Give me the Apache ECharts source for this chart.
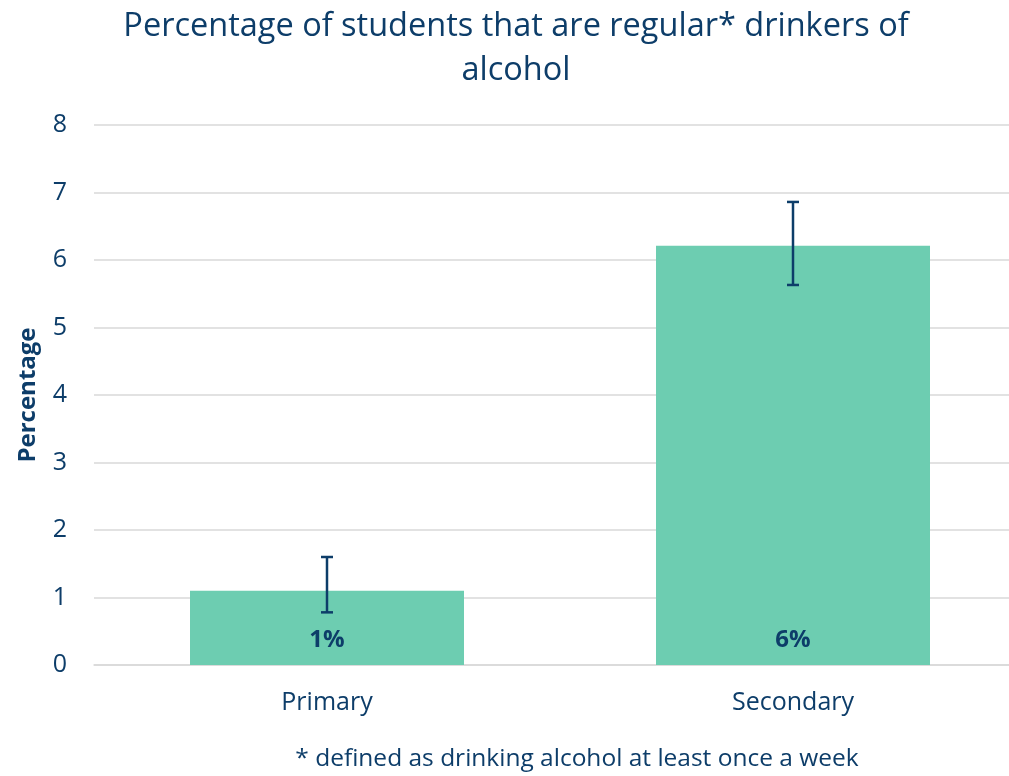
<!DOCTYPE html>
<html><head><meta charset="utf-8">
<script src="https://cdn.jsdelivr.net/npm/echarts@6/dist/echarts.min.js"></script>
<style>html,body{margin:0;padding:0;background:#fff;overflow:hidden}#c{width:1026px;height:776px}</style>
</head><body><div id="c"></div>
<script>
const categories = ['Primary', 'Secondary'];
const values = [1.1, 6.21];
const errLow = [0.78, 5.63];
const errHigh = [1.6, 6.86];
const barLabels = ['1%', '6%'];
const navy = '#0d3d69';
const font = '"Open Sans", sans-serif';
const chart = echarts.init(document.getElementById('c'));
chart.setOption({
  animation: false,
  title: [{
    text: 'Percentage of students that are regular* drinkers of\nalcohol',
    left: 511, top: 0, textAlign: 'center',
    textStyle: {color: navy, fontFamily: font, fontWeight: 'normal', fontSize: 32.5, lineHeight: 44}
  }, {
    text: '* defined as drinking alcohol at least once a week',
    left: 572, top: 742, textAlign: 'center',
    textStyle: {color: navy, fontFamily: font, fontWeight: 'normal', fontSize: 24.5}
  }],
  grid: {left: 94, right: 0, top: 125, bottom: 111},
  xAxis: {
    type: 'category', data: categories,
    axisLine: {lineStyle: {color: '#d9d9d9', width: 1.5}},
    axisTick: {show: false},
    axisLabel: {color: navy, fontFamily: font, fontSize: 25, margin: 25}
  },
  yAxis: {
    type: 'value', min: 0, max: 8, interval: 1,
    name: 'Percentage', nameLocation: 'middle', nameGap: 54, nameRotate: 90,
    nameTextStyle: {color: navy, fontFamily: font, fontSize: 24, fontWeight: 'bold'},
    axisLine: {show: false}, axisTick: {show: false},
    axisLabel: {color: navy, fontFamily: font, fontSize: 25, margin: 27},
    splitLine: {lineStyle: {color: '#d9d9d9', width: 1.5}}
  },
  series: [{
    type: 'bar', data: values, barWidth: 274,
    itemStyle: {color: '#6dcdb1'},
    label: {
      show: true, position: 'insideBottom', distance: 13,
      formatter: p => barLabels[p.dataIndex],
      color: navy, fontFamily: font, fontSize: 24, fontWeight: 'bold'
    }
  }, {
    type: 'custom',
    data: categories.map((c, i) => [i, errLow[i], errHigh[i]]),
    z: 10,
    renderItem: function (params, api) {
      const lo = api.coord([api.value(0), api.value(1)]);
      const hi = api.coord([api.value(0), api.value(2)]);
      const w = 6;
      const st = {stroke: navy, lineWidth: 2.5};
      return {type: 'group', children: [
        {type: 'line', shape: {x1: lo[0], y1: lo[1], x2: hi[0], y2: hi[1]}, style: st},
        {type: 'line', shape: {x1: lo[0] - w, y1: lo[1], x2: lo[0] + w, y2: lo[1]}, style: st},
        {type: 'line', shape: {x1: hi[0] - w, y1: hi[1], x2: hi[0] + w, y2: hi[1]}, style: st}
      ]};
    }
  }]
});
</script></body></html>
